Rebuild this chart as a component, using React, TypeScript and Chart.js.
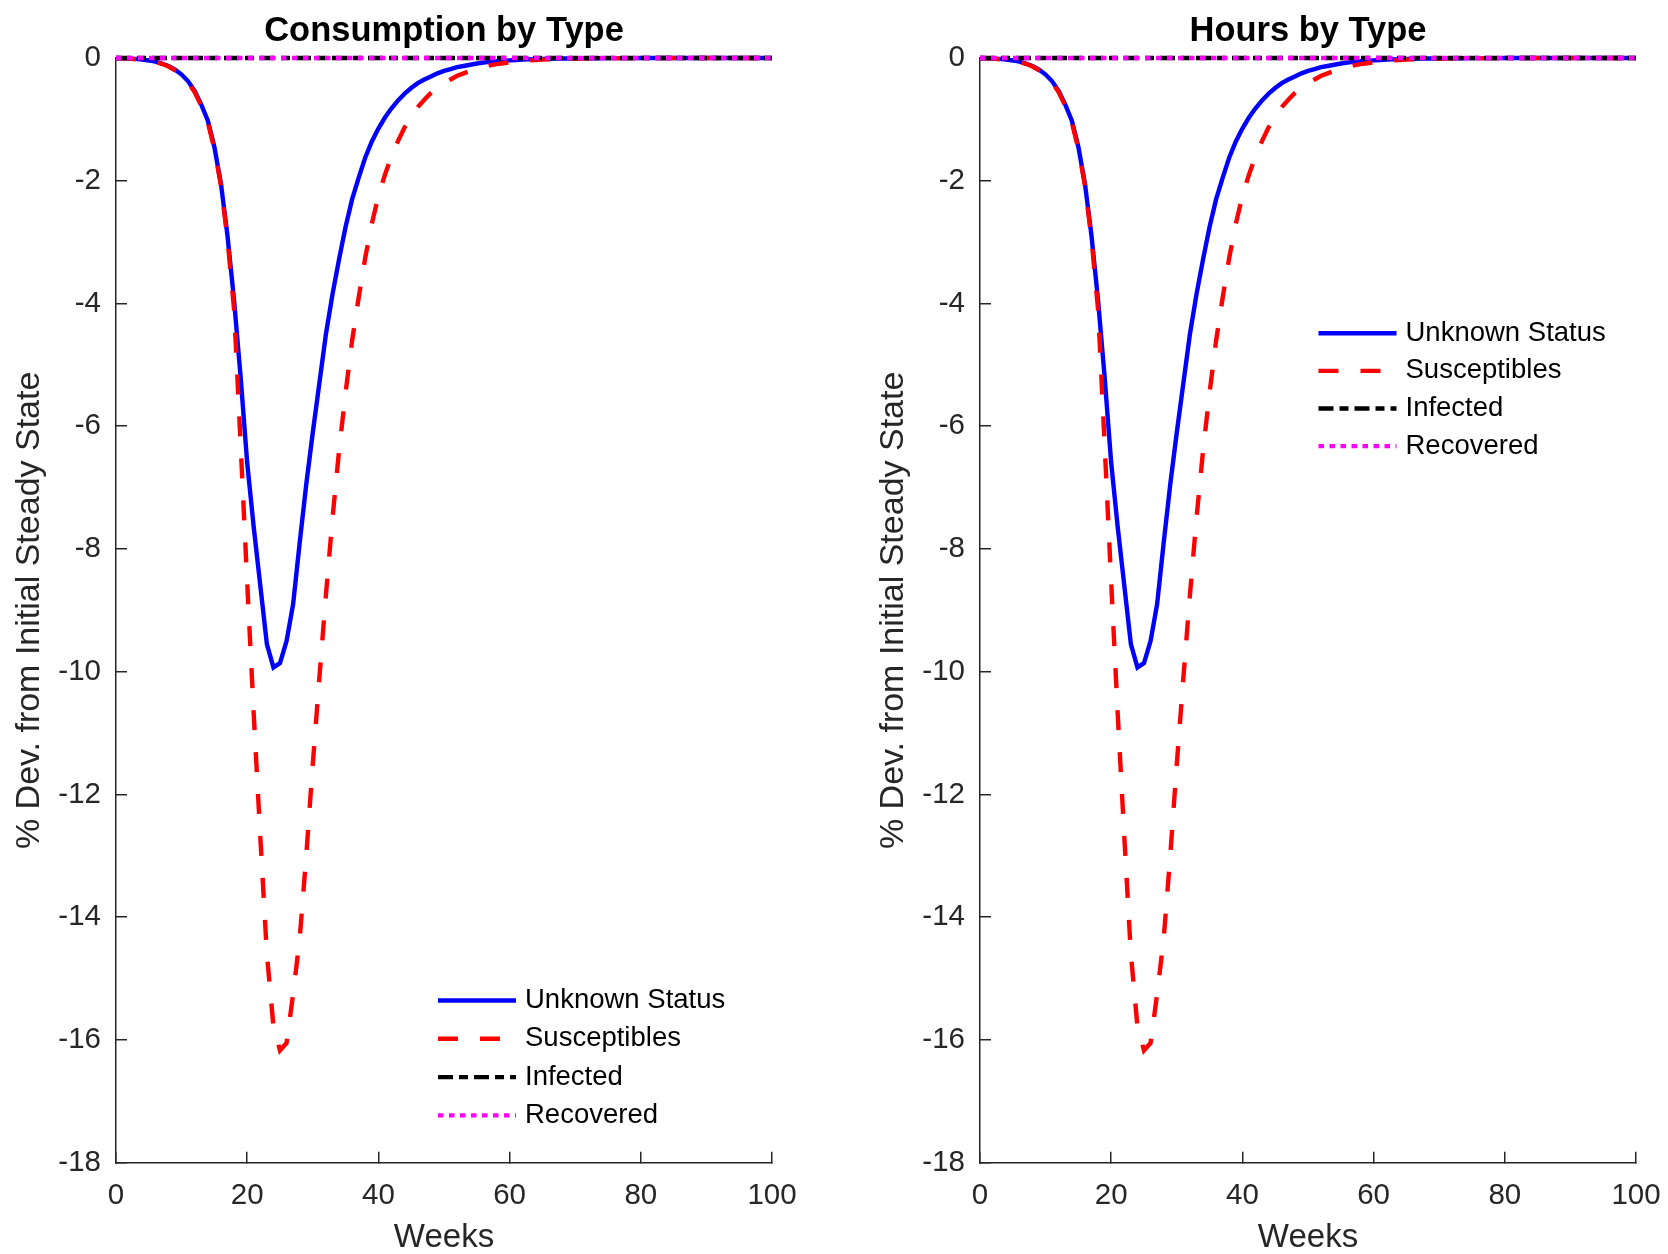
import React, { useEffect, useRef } from 'react';
import { Chart, registerables } from 'chart.js';

Chart.register(...registerables);

// ---------- data ----------
const weeks = [
  0, 1, 2, 3, 4, 5, 6, 7, 8, 9,
  10, 11, 12, 13, 14, 15, 16, 17, 18, 19,
  20, 21, 22, 23, 24, 25, 26, 27, 28, 29,
  30, 31, 32, 33, 34, 35, 36, 37, 38, 39,
  40, 41, 42, 43, 44, 45, 46, 47, 48, 49,
  50, 51, 52, 53, 54, 55, 56, 57, 58, 59,
  60, 61, 62, 63, 64, 65, 66, 67, 68, 69,
  70, 71, 72, 73, 74, 75, 76, 77, 78, 79,
  80, 81, 82, 83, 84, 85, 86, 87, 88, 89,
  90, 91, 92, 93, 94, 95, 96, 97, 98, 99, 100,
];

const seriesLabels = ['Unknown Status', 'Susceptibles', 'Infected', 'Recovered'];

const consumptionUnknown = [
  0, -0.005, -0.01, -0.015, -0.025, -0.04, -0.06, -0.09, -0.13, -0.19,
  -0.27, -0.38, -0.54, -0.76, -1.02, -1.45, -2.05, -2.9, -3.95, -5.2,
  -6.6, -7.65, -8.6, -9.55, -9.93, -9.86, -9.5, -8.9, -7.9, -6.95,
  -6.1, -5.3, -4.5, -3.85, -3.28, -2.75, -2.3, -1.95, -1.62, -1.36,
  -1.15, -0.97, -0.82, -0.69, -0.58, -0.49, -0.41, -0.35, -0.3, -0.25,
  -0.21, -0.18, -0.15, -0.13, -0.11, -0.09, -0.075, -0.063, -0.053, -0.045,
  -0.038, -0.032, -0.027, -0.022, -0.018, -0.015, -0.012, -0.01, -0.008, -0.007,
  -0.006, -0.005, -0.004, -0.0035, -0.003, -0.0025, -0.002, -0.002, -0.0015, -0.0015,
  -0.001, -0.001, -0.001, -0.0008, -0.0007, -0.0006, -0.0005, -0.0005, -0.0004, -0.0004,
  -0.0003, -0.0003, -0.0002, -0.0002, -0.0002, -0.0001, -0.0001, -0.0001, -0.0001, 0, 0,
];

const consumptionSusceptibles = [
  0, -0.005, -0.01, -0.02, -0.03, -0.045, -0.065, -0.095, -0.14, -0.2,
  -0.28, -0.4, -0.56, -0.78, -1.05, -1.48, -2.08, -2.95, -4.1, -6.3,
  -8.55, -10.7, -12.7, -14.6, -15.78, -16.17, -16.05, -15.25, -14.35, -13.0,
  -11.5, -10.1, -8.75, -7.5, -6.4, -5.45, -4.6, -3.9, -3.25, -2.7,
  -2.25, -1.9, -1.6, -1.35, -1.13, -0.95, -0.8, -0.68, -0.57, -0.48,
  -0.41, -0.35, -0.29, -0.25, -0.21, -0.18, -0.15, -0.12, -0.1, -0.085,
  -0.07, -0.06, -0.05, -0.04, -0.033, -0.027, -0.022, -0.018, -0.014, -0.011,
  -0.009, -0.007, -0.006, -0.005, -0.004, -0.0035, -0.003, -0.0025, -0.002, -0.0018,
  -0.0015, -0.0013, -0.0011, -0.001, -0.0008, -0.0007, -0.0006, -0.0005, -0.0004, -0.0004,
  -0.0003, -0.0003, -0.0002, -0.0002, -0.0002, -0.0001, -0.0001, -0.0001, -0.0001, 0, 0,
];

const consumptionInfected = [
  0, 0, 0, 0, 0, 0, 0, 0, 0, 0, 0, 0, 0, 0, 0, 0, 0, 0, 0, 0,
  0, 0, 0, 0, 0, 0, 0, 0, 0, 0, 0, 0, 0, 0, 0, 0, 0, 0, 0, 0,
  0, 0, 0, 0, 0, 0, 0, 0, 0, 0, 0, 0, 0, 0, 0, 0, 0, 0, 0, 0,
  0, 0, 0, 0, 0, 0, 0, 0, 0, 0, 0, 0, 0, 0, 0, 0, 0, 0, 0, 0,
  0, 0, 0, 0, 0, 0, 0, 0, 0, 0, 0, 0, 0, 0, 0, 0, 0, 0, 0, 0, 0,
];

const consumptionRecovered = [
  0, 0, 0, 0, 0, 0, 0, 0, 0, 0, 0, 0, 0, 0, 0, 0, 0, 0, 0, 0,
  0, 0, 0, 0, 0, 0, 0, 0, 0, 0, 0, 0, 0, 0, 0, 0, 0, 0, 0, 0,
  0, 0, 0, 0, 0, 0, 0, 0, 0, 0, 0, 0, 0, 0, 0, 0, 0, 0, 0, 0,
  0, 0, 0, 0, 0, 0, 0, 0, 0, 0, 0, 0, 0, 0, 0, 0, 0, 0, 0, 0,
  0, 0, 0, 0, 0, 0, 0, 0, 0, 0, 0, 0, 0, 0, 0, 0, 0, 0, 0, 0, 0,
];

// The hours panel reads identically to the consumption panel in the picture.
const hoursUnknown = consumptionUnknown.slice();
const hoursSusceptibles = consumptionSusceptibles.slice();
const hoursInfected = consumptionInfected.slice();
const hoursRecovered = consumptionRecovered.slice();

const xTicksStep = 20;
const yTicksStep = 2;
const xRange = [0, 100];
const yRange = [-18, 0];

// ---------- styling ----------
const FONT = "'Liberation Sans', Arial, Helvetica, sans-serif";
const AXIS_COLOR = '#262626';
const CANVAS_W = 834;
const CANVAS_H = 1254;

const seriesStyles = [
  { color: '#0000ff', dash: [] as number[], order: 3 },
  { color: '#ff0000', dash: [20, 22], order: 2 },
  { color: '#000000', dash: [15, 6, 9, 6], order: 1 },
  { color: '#ff00ff', dash: [5.5, 5.5], order: 0 },
];

const insideLegend = {
  id: 'insideLegend',
  afterDraw(chart: any, _args: any, opts: any) {
    const { ctx, chartArea } = chart;
    const x0 = chartArea.left + opts.x;
    let y = chartArea.top + opts.y;
    ctx.save();
    ctx.font = `${opts.fontSize}px ${FONT}`;
    ctx.textBaseline = 'middle';
    ctx.textAlign = 'left';
    chart.data.datasets.forEach((ds: any) => {
      ctx.beginPath();
      ctx.setLineDash(ds.borderDash || []);
      ctx.lineWidth = ds.borderWidth;
      ctx.strokeStyle = ds.borderColor;
      ctx.lineCap = 'butt';
      ctx.moveTo(x0, y);
      ctx.lineTo(x0 + opts.lineLength, y);
      ctx.stroke();
      ctx.setLineDash([]);
      ctx.fillStyle = opts.color;
      ctx.fillText(ds.label, x0 + opts.lineLength + opts.textGap, y);
      y += opts.rowHeight;
    });
    ctx.restore();
  },
};

function buildDatasets(series: number[][]) {
  return series.map((vals, i) => ({
    label: seriesLabels[i],
    data: weeks.map((w, k) => ({ x: w, y: vals[k] })),
    borderColor: seriesStyles[i].color,
    backgroundColor: seriesStyles[i].color,
    borderDash: seriesStyles[i].dash,
    borderWidth: 4.4,
    order: seriesStyles[i].order,
    pointRadius: 0,
    tension: 0,
    fill: false,
    clip: false as any,
  }));
}

function makeConfig(
  title: string,
  series: number[][],
  padLeft: number,
  padRight: number,
  legendPos: { x: number; y: number; row: number }
): any {
  return {
    type: 'line',
    data: { datasets: buildDatasets(series) },
    plugins: [insideLegend],
    options: {
      animation: false,
      responsive: false,
      devicePixelRatio: 1,
      events: [],
      layout: { padding: { left: padLeft, right: padRight, top: 0, bottom: 0 } },
      plugins: {
        legend: { display: false },
        tooltip: { enabled: false },
        title: {
          display: true,
          text: title,
          fullSize: false,
          color: '#000000',
          font: { family: FONT, size: 34.5, weight: 'bold', lineHeight: 1.2 },
          padding: { top: 10.3, bottom: 6.3 },
        },
        insideLegend: {
          x: legendPos.x,
          y: legendPos.y,
          rowHeight: legendPos.row,
          lineLength: 78,
          textGap: 9,
          fontSize: 27.5,
          color: '#000000',
        },
      },
      scales: {
        x: {
          type: 'linear',
          position: 'bottom',
          min: xRange[0],
          max: xRange[1],
          ticks: {
            stepSize: xTicksStep,
            color: AXIS_COLOR,
            font: { family: FONT, size: 29.5 },
            padding: 26,
            maxRotation: 0,
            autoSkip: false,
          },
          grid: {
            drawOnChartArea: false,
            drawTicks: true,
            tickLength: -11,
            color: AXIS_COLOR,
            lineWidth: 1.5,
          },
          border: { display: true, color: AXIS_COLOR, width: 1.5 },
          title: {
            display: true,
            text: 'Weeks',
            color: AXIS_COLOR,
            font: { family: FONT, size: 33, lineHeight: 1 },
            padding: { top: 0, bottom: 0 },
          },
          afterFit: (s: any) => {
            s.height = 91.3;
            s.paddingLeft = 0;
            s.paddingRight = 0;
          },
        },
        y: {
          type: 'linear',
          position: 'left',
          min: yRange[0],
          max: yRange[1],
          ticks: {
            stepSize: yTicksStep,
            color: AXIS_COLOR,
            font: { family: FONT, size: 29.5 },
            padding: 26,
          },
          grid: {
            drawOnChartArea: false,
            drawTicks: true,
            tickLength: -11,
            color: AXIS_COLOR,
            lineWidth: 1.5,
          },
          border: { display: true, color: AXIS_COLOR, width: 1.5 },
          title: {
            display: true,
            text: '% Dev. from Initial Steady State',
            color: AXIS_COLOR,
            font: { family: FONT, size: 34, lineHeight: 1.2 },
            padding: { top: 9.4, bottom: 0 },
          },
          afterFit: (s: any) => {
            s.width = 116;
          },
        },
      },
    },
  };
}

export default function App() {
  const leftRef = useRef<HTMLCanvasElement | null>(null);
  const rightRef = useRef<HTMLCanvasElement | null>(null);

  useEffect(() => {
    const left = new Chart(
      leftRef.current as HTMLCanvasElement,
      makeConfig(
        'Consumption by Type',
        [consumptionUnknown, consumptionSusceptibles, consumptionInfected, consumptionRecovered],
        0,
        62,
        { x: 322, y: 942.5, row: 38.3 }
      )
    );
    const right = new Chart(
      rightRef.current as HTMLCanvasElement,
      makeConfig(
        'Hours by Type',
        [hoursUnknown, hoursSusceptibles, hoursInfected, hoursRecovered],
        30,
        32,
        { x: 338.5, y: 275.3, row: 37.6 }
      )
    );
    return () => {
      left.destroy();
      right.destroy();
    };
  }, []);

  return (
    <div
      style={{
        position: 'absolute',
        left: 0,
        top: 0,
        width: 1668,
        height: 1254,
        overflow: 'hidden',
        background: '#ffffff',
      }}
    >
      <canvas
        ref={leftRef}
        width={CANVAS_W}
        height={CANVAS_H}
        style={{ position: 'absolute', left: 0, top: 0, width: CANVAS_W, height: CANVAS_H }}
      />
      <canvas
        ref={rightRef}
        width={CANVAS_W}
        height={CANVAS_H}
        style={{ position: 'absolute', left: CANVAS_W, top: 0, width: CANVAS_W, height: CANVAS_H }}
      />
    </div>
  );
}
